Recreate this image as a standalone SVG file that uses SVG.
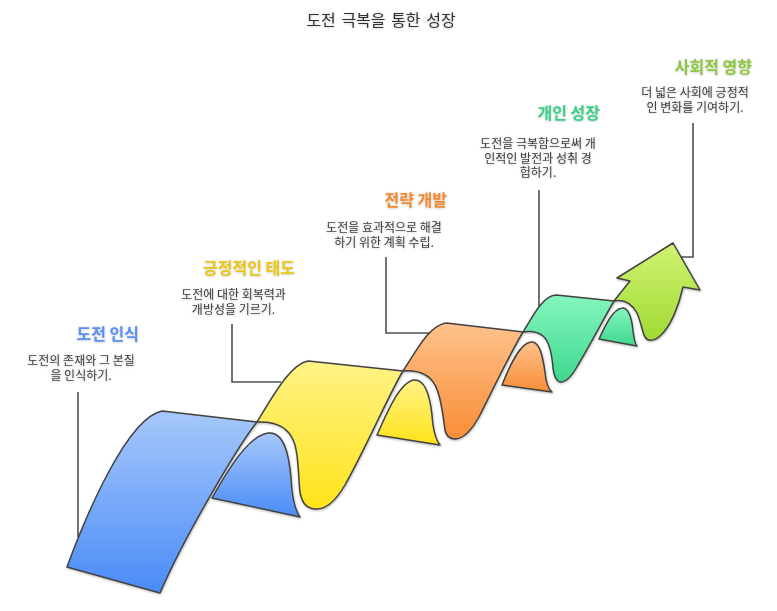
<svg xmlns="http://www.w3.org/2000/svg" width="777" height="611" viewBox="0 0 777 611">
<defs>
<linearGradient id="gBlue" x1="0" y1="0" x2="0" y2="1"><stop offset="0" stop-color="#a6c8fb"/><stop offset="1" stop-color="#4a8bf7"/></linearGradient>
<linearGradient id="gYellow" x1="0" y1="0" x2="0" y2="1"><stop offset="0" stop-color="#fff386"/><stop offset="1" stop-color="#ffe31a"/></linearGradient>
<linearGradient id="gOrange" x1="0" y1="0" x2="0" y2="1"><stop offset="0" stop-color="#fec28b"/><stop offset="1" stop-color="#f98d37"/></linearGradient>
<linearGradient id="gGreen" x1="0" y1="0" x2="0" y2="1"><stop offset="0" stop-color="#84f6bd"/><stop offset="1" stop-color="#3ed88f"/></linearGradient>
<linearGradient id="gLime" x1="0" y1="0" x2="0" y2="1"><stop offset="0" stop-color="#d0f372"/><stop offset="1" stop-color="#a0da33"/></linearGradient>
<filter id="sh" x="-20%" y="-20%" width="140%" height="140%"><feDropShadow dx="0.5" dy="1" stdDeviation="1.2" flood-color="#000" flood-opacity="0.3"/></filter>
<filter id="tsh" x="-10%" y="-30%" width="120%" height="160%"><feDropShadow dx="0" dy="0.5" stdDeviation="1" flood-color="#000" flood-opacity="0.25"/></filter>
</defs>
<style>
.rib{stroke:#424242;stroke-width:1.5;stroke-linejoin:round;filter:url(#sh)}
.lead{fill:none;stroke:#505050;stroke-width:1.6}
.ttl{font-family:"Noto Sans CJK KR","Noto Sans",sans-serif;font-size:16px;font-weight:bold;text-anchor:end;filter:url(#tsh)}
.dsc{font-family:"Noto Sans CJK KR","Noto Sans",sans-serif;font-size:12px;fill:#3c3c3c;text-anchor:middle;filter:url(#tsh)}
.main{font-family:"Noto Sans CJK KR","Noto Sans",sans-serif;font-size:16px;fill:#333;text-anchor:middle;word-spacing:2px;filter:url(#tsh)}
</style>
<rect width="777" height="611" fill="#fff"/>
<text class="main" x="381" y="26">도전 극복을 통한 성장</text>

<g id="connectors">
<path class="lead" d="M78,392 V537"/>
<path class="lead" d="M232,324 V382 H281"/>
<path class="lead" d="M386,257 V333 H432"/>
<path class="lead" d="M539,190 V309"/>
<path class="lead" d="M693,123 V257 H681"/>
</g>

<g id="arrow-social">
<path class="rib" fill="url(#gLime)" d="M614,301 L630,281 L617,278 L673,243 L700,290 L683,287 C679,305 671,326 661,335 C655,341 648,342 645,337 C642,331 641,322 637,313 C632,304 624,299 614,301 Z"/>
</g>

<g id="ribbon-growth">
<path class="rib" fill="url(#gGreen)" d="M523,332 C532,318 542,296 556,295 L614,301 C604,318 590,345 578,365 C572,376 566,382 561,382 C556,382 554,376 553,368 C552,355 550,342 543,336 C537,331 530,331 523,332 Z"/>
<path class="rib" fill="url(#gGreen)" d="M599,339 C605,326 613,309 622,308 C629,307 632,320 633,331 C634,339 635,344 637,346 Z"/>
</g>

<g id="ribbon-strategy">
<path class="rib" fill="url(#gOrange)" d="M403,371 C416,352 428,326 446,323 L523,332 C512,350 495,385 480,415 C472,430 464,439 455,439 C449,439 446,435 445,430 C443,415 441,395 435,385 C429,374 417,370 403,371 Z"/>
<path class="rib" fill="url(#gOrange)" d="M502,385 C510,365 520,343 531,342 C540,341 543,358 545,372 C546,383 548,389 552,392 Z"/>
</g>

<g id="ribbon-attitude">
<path class="rib" fill="url(#gYellow)" d="M257,422 C272,398 290,364 308,361 L403,371 C390,392 365,450 345,485 C335,502 325,510 315,509 C306,508 302,503 300,492 C298,475 299,455 294,442 C289,428 277,421 257,422 Z"/>
<path class="rib" fill="url(#gYellow)" d="M377,435 C387,412 400,382 414,380 C425,379 430,397 432,415 C433,430 436,440 440,445 Z"/>
</g>

<g id="ribbon-awareness">
<path class="rib" fill="url(#gBlue)" d="M67,567 C88,510 128,418 162,411 L257,422 C240,443 185,535 160,593 Z"/>
<path class="rib" fill="url(#gBlue)" d="M212,498 C228,470 248,436 268,433 C284,431 289,455 291,478 C292,497 295,510 300,517 Z"/>
</g>

<g id="label-awareness">
<text class="ttl" x="139" y="340" fill="#5a8ef5">도전 인식</text>
<text class="dsc" x="81" y="365">도전의 존재와 그 본질<tspan x="81" dy="15">을 인식하기.</tspan></text>
</g>
<g id="label-attitude">
<text class="ttl" x="295" y="274" fill="#e8c614">긍정적인 태도</text>
<text class="dsc" x="233.5" y="299">도전에 대한 회복력과<tspan x="233.5" dy="15">개방성을 기르기.</tspan></text>
</g>
<g id="label-strategy">
<text class="ttl" x="447" y="206" fill="#f08a33">전략 개발</text>
<text class="dsc" x="384" y="232">도전을 효과적으로 해결<tspan x="384" dy="14.5">하기 위한 계획 수립.</tspan></text>
</g>
<g id="label-growth">
<text class="ttl" x="600" y="119" fill="#3ccf86">개인 성장</text>
<text class="dsc" x="538" y="148">도전을 극복함으로써 개<tspan x="538" dy="14.5">인적인 발전과 성취 경</tspan><tspan x="538" dy="14.5">험하기.</tspan></text>
</g>
<g id="label-social">
<text class="ttl" x="752" y="73" fill="#8dc63f">사회적 영향</text>
<text class="dsc" x="695" y="97">더 넓은 사회에 긍정적<tspan x="695" dy="14.5">인 변화를 기여하기.</tspan></text>
</g>
</svg>
